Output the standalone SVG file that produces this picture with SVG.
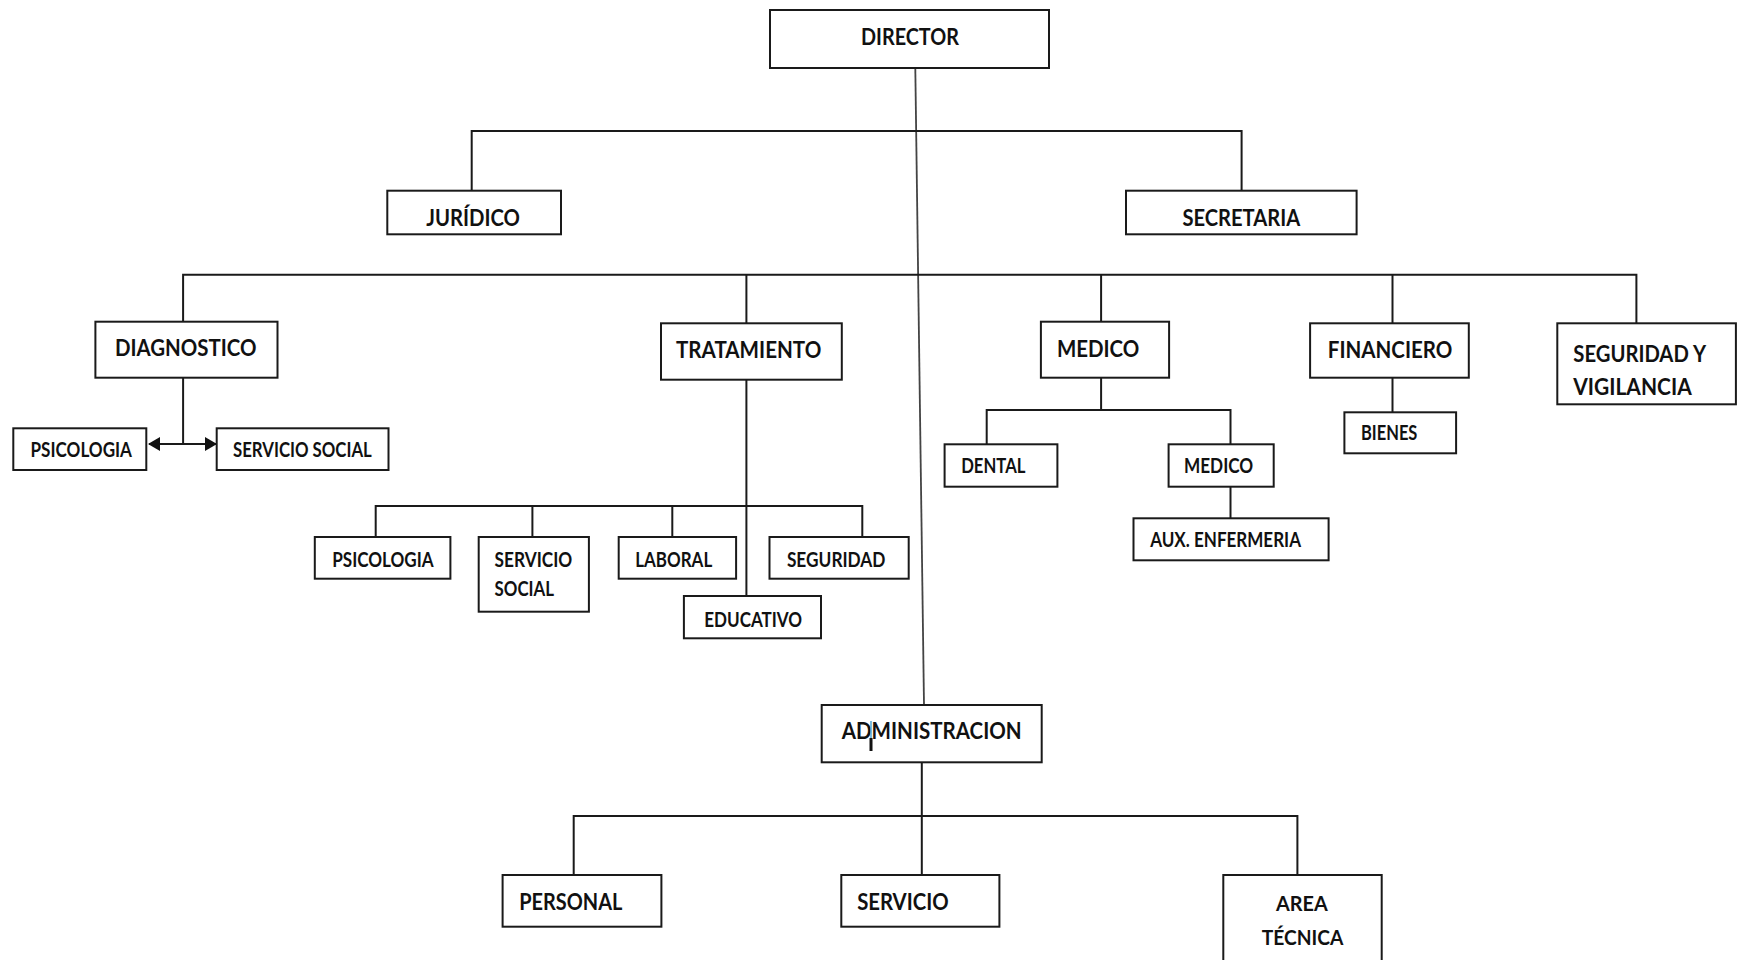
<svg xmlns="http://www.w3.org/2000/svg" width="1737" height="960" viewBox="0 0 1737 960">
<defs>
<style>
.box{fill:#fff;stroke:#1a1a1a;stroke-width:2}
.ln{fill:none;stroke:#1a1a1a;stroke-width:2}
.thin{fill:none;stroke:#444;stroke-width:1.8}
text{font-family:Lato,"Open Sans","Liberation Sans",sans-serif;font-weight:bold;fill:#111}
.l{font-size:23px}
.m{font-size:21px}
.s{font-size:20px}
</style>
<marker id="ah" viewBox="0 0 12 14" refX="11" refY="7" markerWidth="12" markerHeight="14" markerUnits="userSpaceOnUse" orient="auto-start-reverse">
<path d="M0,0 L12,7 L0,14 Z" fill="#111"/>
</marker>
</defs>
<rect width="1737" height="960" fill="#fff"/>
<g id="connectors">
<line class="thin" x1="915.3" y1="68" x2="924" y2="705"/>
<path class="ln" d="M471.7,191 V131 H1241.6 V191"/>
<path class="ln" d="M183.1,321.7 V274.7 H1636.4 V323.3"/>
<path class="ln" d="M746.4,274.7 V323.3"/>
<path class="ln" d="M1101.1,274.7 V321.7"/>
<path class="ln" d="M1392.5,274.7 V323.3"/>
<path class="ln" d="M183.1,377.7 V444"/>
<line class="ln" x1="149" y1="444" x2="216" y2="444" marker-start="url(#ah)" marker-end="url(#ah)"/>
<path class="ln" d="M746.4,379.7 V596"/>
<path class="ln" d="M375.7,537 V506 H862.3 V537"/>
<path class="ln" d="M532.4,506 V537"/>
<path class="ln" d="M672.3,506 V537"/>
<path class="ln" d="M1101.1,377.7 V410"/>
<path class="ln" d="M986.7,444.3 V410 H1230.5 V444.3"/>
<path class="ln" d="M1230.5,486.7 V518.3"/>
<path class="ln" d="M1392.5,377.7 V412.3"/>
<path class="ln" d="M921.8,762.3 V875"/>
<path class="ln" d="M573.7,875 V816 H1297.4 V875"/>
</g>
<g id="director"><rect class="box" x="770" y="10" width="279" height="58"/><text class="l" x="861" y="45" textLength="98" lengthAdjust="spacingAndGlyphs">DIRECTOR</text></g>
<g id="juridico"><rect class="box" x="387.3" y="190.7" width="173.7" height="43.6"/><text class="l" x="426.2" y="226" textLength="93.8" lengthAdjust="spacingAndGlyphs">JURÍDICO</text></g>
<g id="secretaria"><rect class="box" x="1126" y="190.7" width="230.6" height="43.6"/><text class="l" x="1182.4" y="226" textLength="117.8" lengthAdjust="spacingAndGlyphs">SECRETARIA</text></g>
<g id="diagnostico"><rect class="box" x="95.4" y="321.7" width="182.1" height="56"/><text class="l" x="114.9" y="356" textLength="141.5" lengthAdjust="spacingAndGlyphs">DIAGNOSTICO</text></g>
<g id="tratamiento"><rect class="box" x="661" y="323.3" width="180.8" height="56.4"/><text class="l" x="676" y="358.3" textLength="145.3" lengthAdjust="spacingAndGlyphs">TRATAMIENTO</text></g>
<g id="medico"><rect class="box" x="1040.9" y="321.7" width="128.2" height="56"/><text class="l" x="1056.9" y="356.7" textLength="82.4" lengthAdjust="spacingAndGlyphs">MEDICO</text></g>
<g id="financiero"><rect class="box" x="1310.1" y="323.3" width="158.7" height="54.4"/><text class="l" x="1327.8" y="358.3" textLength="124.5" lengthAdjust="spacingAndGlyphs">FINANCIERO</text></g>
<g id="seguridad-vigilancia"><rect class="box" x="1557.3" y="323.3" width="178.6" height="81"/><text class="l" x="1573.3" y="361.7" textLength="132.7" lengthAdjust="spacingAndGlyphs">SEGURIDAD Y</text><text class="l" x="1573.3" y="395" textLength="118.4" lengthAdjust="spacingAndGlyphs">VIGILANCIA</text></g>
<g id="diag-psicologia"><rect class="box" x="13.3" y="428.3" width="133" height="41.7"/><text class="s" x="30.5" y="456.7" textLength="101.5" lengthAdjust="spacingAndGlyphs">PSICOLOGIA</text></g>
<g id="diag-servicio-social"><rect class="box" x="216.7" y="428.3" width="171.8" height="41.7"/><text class="s" x="233" y="456.7" textLength="138.8" lengthAdjust="spacingAndGlyphs">SERVICIO SOCIAL</text></g>
<g id="dental"><rect class="box" x="944.6" y="444.3" width="112.8" height="42.4"/><text class="s" x="961.2" y="473.3" textLength="64.2" lengthAdjust="spacingAndGlyphs">DENTAL</text></g>
<g id="medico-sub"><rect class="box" x="1168.6" y="444.3" width="105.1" height="42.4"/><text class="s" x="1184" y="473.3" textLength="69.2" lengthAdjust="spacingAndGlyphs">MEDICO</text></g>
<g id="bienes"><rect class="box" x="1344.4" y="412.3" width="111.7" height="41"/><text class="s" x="1361" y="440" textLength="56.4" lengthAdjust="spacingAndGlyphs">BIENES</text></g>
<g id="aux-enfermeria"><rect class="box" x="1133.5" y="518.3" width="195.1" height="42"/><text class="s" x="1150.2" y="546.7" textLength="150.8" lengthAdjust="spacingAndGlyphs">AUX. ENFERMERIA</text></g>
<g id="trat-psicologia"><rect class="box" x="314.8" y="537" width="135.6" height="41.7"/><text class="s" x="332.2" y="567.3" textLength="101.5" lengthAdjust="spacingAndGlyphs">PSICOLOGIA</text></g>
<g id="trat-servicio-social"><rect class="box" x="478.7" y="537" width="110.2" height="74.7"/><text class="s" x="494.6" y="567.3" textLength="77.6" lengthAdjust="spacingAndGlyphs">SERVICIO</text><text class="s" x="494.6" y="596" textLength="59.5" lengthAdjust="spacingAndGlyphs">SOCIAL</text></g>
<g id="laboral"><rect class="box" x="618.7" y="537" width="117.4" height="41.7"/><text class="s" x="635.3" y="567.3" textLength="76.9" lengthAdjust="spacingAndGlyphs">LABORAL</text></g>
<g id="seguridad"><rect class="box" x="769.5" y="537" width="139.2" height="41.7"/><text class="s" x="786.9" y="567.3" textLength="98.6" lengthAdjust="spacingAndGlyphs">SEGURIDAD</text></g>
<g id="educativo"><rect class="box" x="683.9" y="596" width="137.1" height="42.3"/><text class="s" x="704.2" y="626.7" textLength="97.9" lengthAdjust="spacingAndGlyphs">EDUCATIVO</text></g>
<g id="administracion"><rect class="box" x="821.7" y="705" width="220" height="57.3"/><text class="l" x="841.7" y="739" textLength="180" lengthAdjust="spacingAndGlyphs">ADMINISTRACION</text><line x1="871" y1="721" x2="871" y2="739" stroke="#5aa9d6" stroke-width="1.6"/><rect x="869.5" y="738" width="3" height="13" fill="#111"/></g>
<g id="personal"><rect class="box" x="502.6" y="875" width="158.8" height="51.7"/><text class="l" x="519.3" y="910" textLength="103" lengthAdjust="spacingAndGlyphs">PERSONAL</text></g>
<g id="servicio"><rect class="box" x="841.3" y="875" width="158.1" height="51.7"/><text class="l" x="857.2" y="910" textLength="91.4" lengthAdjust="spacingAndGlyphs">SERVICIO</text></g>
<g id="area-tecnica"><rect class="box" x="1223.3" y="875" width="158.4" height="100"/><text class="m" x="1276" y="910.7" textLength="51.7" lengthAdjust="spacingAndGlyphs">AREA</text><text class="m" x="1261.7" y="945" textLength="81.6" lengthAdjust="spacingAndGlyphs">TÉCNICA</text></g>
</svg>
